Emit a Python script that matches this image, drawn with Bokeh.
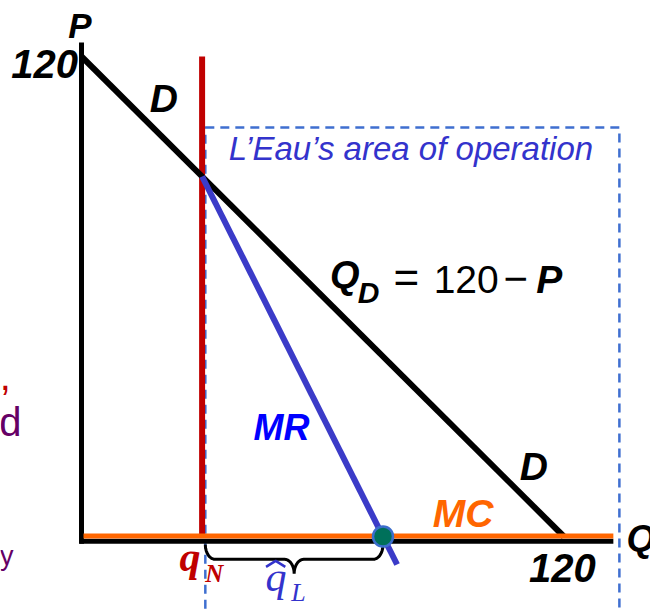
import numpy as np
from bokeh.plotting import figure
from bokeh.models import Range1d
from bokeh.core.properties import value
from bokeh.embed import file_html
from bokeh.resources import INLINE

# ---- model values ----
demand_intercept = 120          # P at Q = 0 and Q at P = 0 (Q_D = 120 - P)
q_N = 30                        # rival's quantity
mc = 0                          # marginal cost
q_L_hat = 45                    # L'Eau's best response: MR = MC
tick_labels = ["120", "120"]    # price and quantity intercepts

demand_Q = [0, demand_intercept]
demand_P = [demand_intercept, 0]

# residual marginal revenue: MR = (120 - q_N) - 2 (Q - q_N)
mr_Q = np.array([q_N, q_N + q_L_hat + 3.5])
mr_P = (demand_intercept - q_N) - 2 * (mr_Q - q_N)

SANS = value("Liberation Sans")
SERIF = value("Liberation Serif")
PX_PER_P = 4.0                  # vertical pixels per price unit

p = figure(width=650, height=613, output_backend="svg", toolbar_location=None,
           x_range=Range1d(-20.15, 141.54), y_range=Range1d(-19.25, 134.0),
           min_border=0, outline_line_color=None)
p.axis.visible = False
p.grid.visible = False
p.background_fill_color = "white"
p.border_fill_color = "white"

# L'Eau's area of operation (dashed box)
p.quad(left=[q_N + 0.8], right=[133.8], top=[102.25], bottom=[-40],
       fill_alpha=0, line_color="#3F6FD0", line_width=2.5, line_dash="9 6")

# rival's output
p.segment(x0=[q_N], y0=[demand_intercept], x1=[q_N], y1=[mc],
          line_color="#C00000", line_width=6)

# axes
p.segment(x0=[0], y0=[123.5], x1=[0], y1=[-1.8], line_color="black", line_width=5)
p.segment(x0=[-0.5], y0=[-1.2], x1=[132.3], y1=[-1.2], line_color="black", line_width=5)

# demand
p.line(demand_Q, demand_P, line_color="black", line_width=6)

# marginal cost
p.segment(x0=[0.5], y0=[mc + 0.1], x1=[132.3], y1=[mc + 0.1],
          line_color="#FF6600", line_width=5)

# marginal revenue
p.line(mr_Q, mr_P, line_color="#3B3BC8", line_width=6)

# brace under L'Eau's quantity
x_left, x_right = q_N + 0.8, q_N + q_L_hat
x_mid = (x_left + x_right) / 2
y_top, y_bar, y_tip = -2.0, -5.7, -9.3
r = 2.4
t = np.linspace(0, np.pi / 2, 12)
seg1_x = x_left + r * (1 - np.cos(t));       seg1_y = y_top + (y_bar - y_top) * np.sin(t)
seg2_x = x_mid - r + r * np.sin(t);          seg2_y = y_bar + (y_tip - y_bar) * (1 - np.cos(t))
seg3_x = x_mid + r - r * np.cos(t);          seg3_y = y_tip - (y_tip - y_bar) * np.sin(t)
seg4_x = x_right - r + r * np.sin(t);        seg4_y = y_bar + (y_top - y_bar) * (1 - np.cos(t))
brace_x = np.concatenate([seg1_x, seg2_x, seg3_x, seg4_x])
brace_y = np.concatenate([seg1_y, seg2_y, seg3_y, seg4_y])
p.line(brace_x, brace_y, line_color="black", line_width=3)

# equilibrium point
p.scatter([q_N + q_L_hat], [mc], size=20, fill_color="#00705A",
          line_color="#3C6ECC", line_width=2.5)


def label(x, y, txt, size, color="black", style="bold italic", font=SANS,
          align="left"):
    # y is the intended baseline; lift it to offset the renderer's baseline shift
    y_adj = y + 0.36 * size / PX_PER_P
    p.text(x=[x], y=[y_adj], text=[txt], text_font=font, text_font_size=f"{size}px",
           text_font_style=style, text_color=color, text_align=align,
           text_baseline="alphabetic")


# axis titles and intercepts
label(-3.3, 124.5, "P", 35)
label(-0.9, 114.5, tick_labels[0], 40, align="right")
label(135.6, -3.75, "Q", 37)
label(127.9, -11.5, tick_labels[1], 40, align="right")

# curve labels
label(17.0, 106.0, "D", 39)
label(109.0, 14.0, "D", 39)
label(42.8, 24.0, "MR", 36, color="#0000FF")
label(87.4, 2.25, "MC", 39, color="#FF6600")

# demand equation
label(61.8, 62.0, "Q", 38)
label(68.7, 58.25, "D", 30)
label(77.6, 60.75, "=", 44, style="normal")
label(87.6, 60.75, "120", 39, style="normal")
label(105.0, 60.75, "\u2212", 42, style="normal")
label(113.1, 60.75, "P", 39)

label(36.6, 94.0, "L\u2019Eau\u2019s area of operation", 33, color="#3333CC", style="italic")

# quantities on the horizontal axis
label(24.4, -9.0, "q", 42, color="#C00000", font=SERIF)
label(30.8, -11.5, "N", 25, color="#C00000", font=SERIF)
label(45.8, -14.0, "q", 42, color="#3333CC", style="italic", font=SERIF)
label(52.2, -16.25, "L", 26, color="#3333CC", style="italic", font=SERIF)
# hat over q
hat_x = np.array([45.9, 48.3, 50.7])
hat_y = np.array([-7.6, -6.1, -7.6])
p.line(hat_x, hat_y, line_color="#3333CC", line_width=2.5)

# neighbouring slide text
label(-17.6, 36.5, ",", 40, color="#C00000", style="normal", align="right")
label(-14.9, 25.0, "d", 40, color="#660066", style="normal", align="right")
label(-16.9, -7.25, "y", 27, color="#660066", style="normal", align="right")

open("out.html", "w").write(file_html(p, INLINE))
